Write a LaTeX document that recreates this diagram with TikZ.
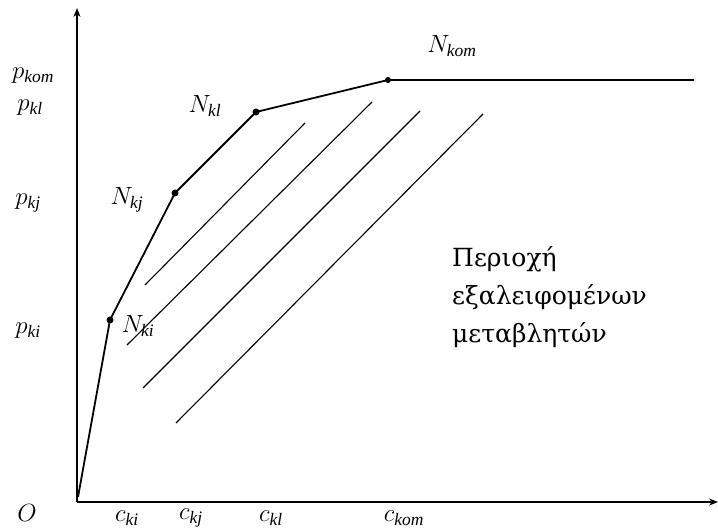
\documentclass[tikz,border=0pt]{standalone}
\usepackage{fontspec}
\setmainfont{Liberation Serif}
\newfontfamily\grfont{DejaVu Serif}
\usetikzlibrary{arrows.meta}
\begin{document}
\begin{tikzpicture}[x=1pt,y=-1pt,
  axis/.style={line width=2.6pt,-{Stealth[length=9pt,width=7pt]}},
  curve/.style={line width=1.8pt},
  hatch/.style={line width=1.1pt},
  pt/.style={circle,fill=black,inner sep=0pt,minimum size=7pt},
  lab/.style={font=\fontsize{25}{27}\selectfont,inner sep=0pt},
  region/.style={font=\grfont\fontsize{25}{38}\selectfont,align=left,anchor=base west,inner sep=0pt}]
\useasboundingbox (0,0) rectangle (718,529);
\coordinate (O) at (77,502);
\coordinate (ytop) at (77,8);
\coordinate (xend) at (718,502);
\coordinate (c0) at (78,497);
\node[pt] (Nki) at (110,320) {};
\node[pt] (Nkj) at (175,193) {};
\node[pt] (Nkl) at (256,112) {};
\node[pt,minimum size=6pt] (Nkom) at (388,80) {};
\coordinate (hend) at (694,80);
% axes
\draw[axis] (O) -- (ytop);
\draw[axis] (O) -- (xend);
% envelope
\draw[curve] (c0) -- (Nki.center) -- (Nkj.center) -- (Nkl.center) -- (Nkom.center) -- (hend);
% hatching
\coordinate (h1a) at (145,285); \coordinate (h1b) at (305,123);
\coordinate (h2a) at (127,345); \coordinate (h2b) at (372,102);
\coordinate (h3a) at (143,388); \coordinate (h3b) at (420,111);
\coordinate (h4a) at (176,423); \coordinate (h4b) at (483,114);
\draw[hatch] (h1a) -- (h1b);
\draw[hatch] (h2a) -- (h2b);
\draw[hatch] (h3a) -- (h3b);
\draw[hatch] (h4a) -- (h4b);
% labels
\node[lab] (pkom) at (33,76) {$p_{\mathit{kom}}$};
\node[lab] (pkl) at (30,108) {$p_{\mathit{kl}}$};
\node[lab] (pkj) at (28,203) {$p_{\mathit{kj}}$};
\node[lab] (pki) at (28,331) {$p_{\mathit{ki}}$};
\node[lab] (Olab) at (27,513) {$O$};
\node[lab] (cki) at (127,518) {$c_{\mathit{ki}}$};
\node[lab] (ckj) at (191,518) {$c_{\mathit{kj}}$};
\node[lab] (ckl) at (271,518) {$c_{\mathit{kl}}$};
\node[lab] (ckom) at (404,518) {$c_{\mathit{kom}}$};
\node[lab] (lNkom) at (452,46) {$N_{\mathit{kom}}$};
\node[lab] (lNkl) at (205,106) {$N_{\mathit{kl}}$};
\node[lab] (lNkj) at (127,200) {$N_{\mathit{kj}}$};
\node[lab] (lNki) at (138,326) {$N_{\mathit{ki}}$};
\node[region] (reg) at (452,343) {Περιοχή\\εξαλειφομένων\\μεταβλητών};
\end{tikzpicture}
\end{document}
